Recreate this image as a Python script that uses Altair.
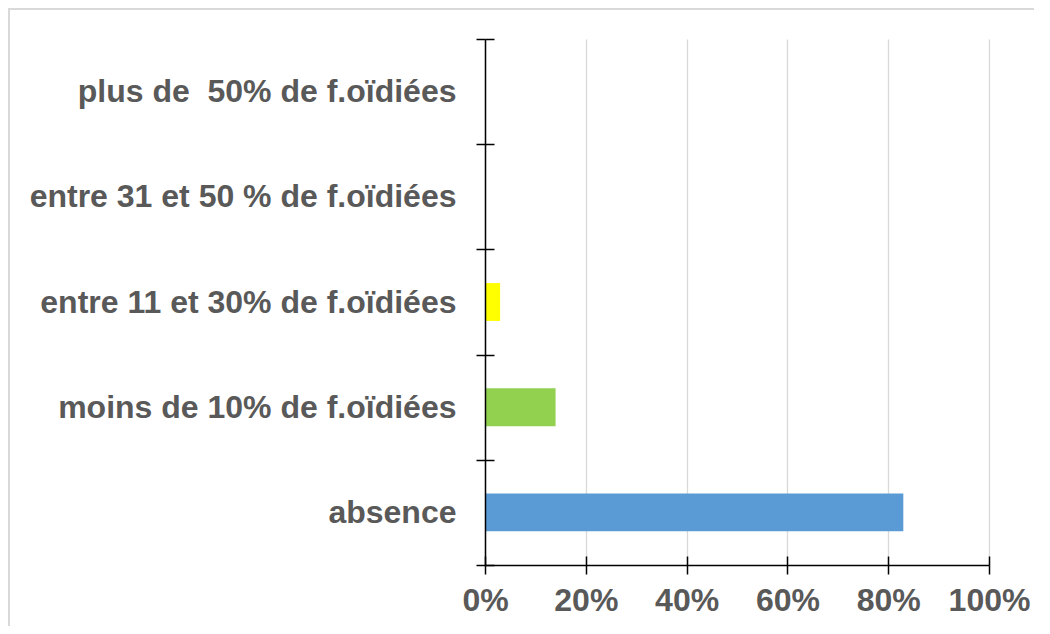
import altair as alt
import pandas as pd

categories = [
    "absence",
    "moins de 10% de f.oïdiées",
    "entre 11 et 30% de f.oïdiées",
    "entre 31 et 50 % de f.oïdiées",
    "plus de\u00a0 50% de f.oïdiées",
]
shares = [0.83, 0.14, 0.03, 0.0, 0.0]
colors = ["#5B9BD5", "#92D050", "#FFFF00", "#ED7D31", "#A5A5A5"]
x_ticks = [0, 0.2, 0.4, 0.6, 0.8, 1.0]

df = pd.DataFrame({"cat": categories, "share": shares, "color": colors})

W, H = 504, 526
LABEL = "#595959"
FONT = "Liberation Sans"
FS = 32
order = categories[::-1]

xscale = alt.Scale(domain=[0, 1], nice=False)
yscale = alt.Scale(paddingInner=0, paddingOuter=0)

bars = alt.Chart(df).mark_bar(height=alt.RelativeBandSize(0.36)).encode(
    x=alt.X("share:Q", title=None, scale=xscale,
            axis=alt.Axis(values=x_ticks, format=".0%", orient="bottom",
                          domainColor="black", domainWidth=1.5,
                          tickColor="black", tickWidth=1.5, tickSize=9,
                          labelFont=FONT, labelFontSize=FS, labelFontWeight="bold",
                          labelColor=LABEL, labelPadding=11,
                          labelFlush=False, labelOverlap=False,
                          grid=True, gridColor="#D9D9D9", gridWidth=1.3)),
    y=alt.Y("cat:N", sort=order, title=None, scale=yscale,
            axis=alt.Axis(orient="left", tickBand="extent",
                          domainColor="black", domainWidth=1.5,
                          tickColor="black", tickWidth=1.5, tickSize=9,
                          labelFont=FONT, labelFontSize=FS, labelFontWeight="bold",
                          labelColor=LABEL, labelPadding=20, labelLimit=470,
                          grid=False, zindex=1)),
    color=alt.Color("color:N", scale=None),
)

inner = alt.Chart(df).mark_bar(height=alt.RelativeBandSize(0.36), opacity=0).encode(
    x=alt.X("share:Q", title=None, scale=xscale,
            axis=alt.Axis(values=x_ticks, orient="bottom", offset=-9,
                          domain=False, labels=False, grid=False,
                          tickColor="black", tickWidth=1.5, tickSize=9, zindex=1)),
    y=alt.Y("cat:N", sort=order, title=None, scale=yscale,
            axis=alt.Axis(orient="left", offset=-9, tickBand="extent",
                          domain=False, labels=False, grid=False,
                          tickColor="black", tickWidth=1.5, tickSize=9, zindex=1)),
)

frame_data = pd.DataFrame({"k": [0]})
frame_top = alt.Chart(frame_data).mark_rule(color="#D9D9D9", strokeWidth=2).encode(
    x=alt.value(-477), x2=alt.value(W + 45), y=alt.value(-30))
frame_left = alt.Chart(frame_data).mark_rule(color="#D9D9D9", strokeWidth=2).encode(
    x=alt.value(-476), y=alt.value(-31), y2=alt.value(H + 61))

chart = alt.layer(bars, inner, frame_top, frame_left).resolve_axis(
    x="independent", y="independent"
).properties(
    width=W, height=H,
    autosize=alt.AutoSizeParams(type="none"),
    padding={"left": 477, "top": 31, "right": 45, "bottom": 61},
).configure_view(stroke=None)

chart.save("out.html", embed_options={"renderer": "svg", "actions": False})
